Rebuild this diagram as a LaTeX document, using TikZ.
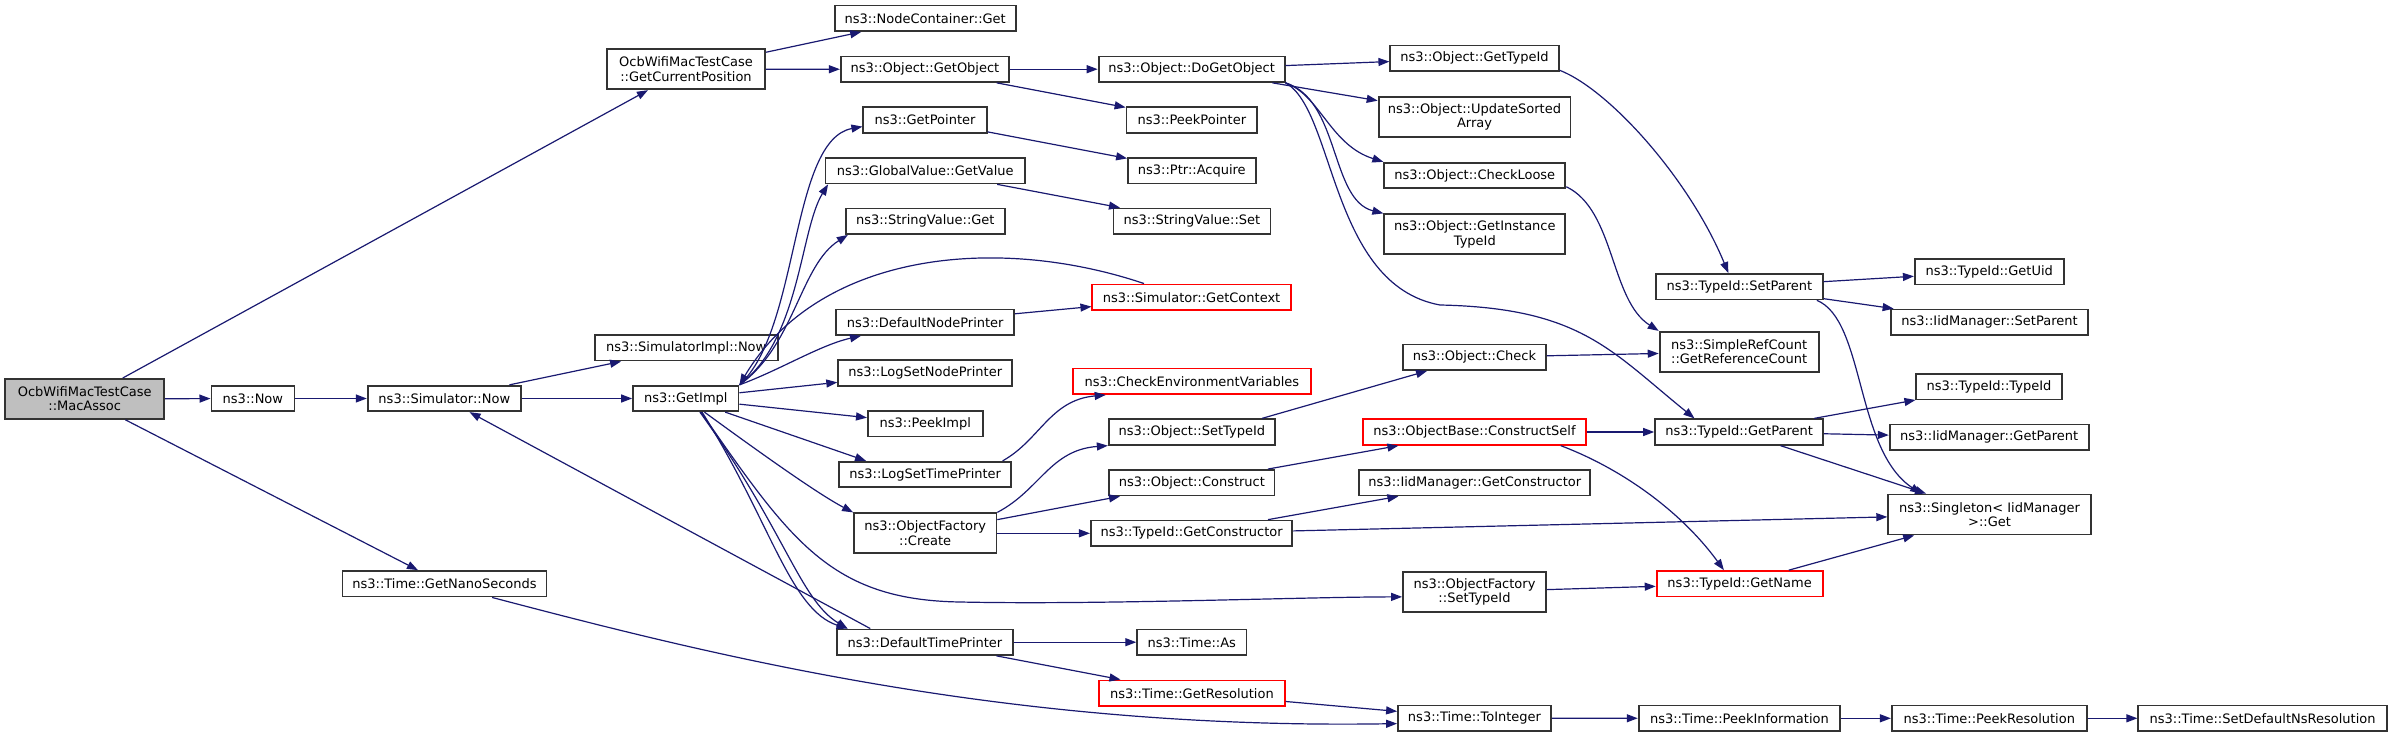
\documentclass[tikz,border=0pt]{standalone}
\usepackage{fontspec}
\setmainfont{DejaVu Sans}
\usetikzlibrary{arrows.meta}
\definecolor{edgeblue}{HTML}{191970}
\definecolor{boxgray}{HTML}{333333}
\newcommand\callfont{\fontsize{6.5pt}{7.25pt}\selectfont}
\tikzset{
  fnbox/.style={draw=boxgray, fill=white, line width=0.9pt, inner sep=0pt,
    align=center, font=\callfont, minimum height=12.75pt},
  twoline/.style={minimum height=20pt},
  rootbox/.style={fnbox, fill=black!25},
  redbox/.style={fnbox, draw=red},
  calledge/.style={draw=edgeblue, line width=0.6pt, -{Triangle[length=5.5pt,width=4pt]}},
}
\begin{document}
\begin{tikzpicture}[x=0.5pt,y=-0.5pt]
  \useasboundingbox (0,0) rectangle (2392,737);
  \node[rootbox, twoline, minimum width=79.5pt] (macassoc) at (84.7,398.9) {OcbWifiMacTestCase\\::MacAssoc};
  \node[fnbox, minimum width=41.5pt] (now) at (252.9,398.5) {ns3::Now};
  \node[fnbox, minimum width=76.6pt] (simnow) at (444.3,398.5) {ns3::Simulator::Now};
  \node[fnbox, minimum width=102pt] (nanosec) at (444.5,583.8) {ns3::Time::GetNanoSeconds};
  \node[fnbox, twoline, minimum width=79.25pt] (getcurpos) at (686,69.3) {OcbWifiMacTestCase\\::GetCurrentPosition};
  \node[fnbox, minimum width=91.5pt] (simimplnow) at (686.2,347.8) {ns3::SimulatorImpl::Now};
  \node[fnbox, minimum width=52.75pt] (getimpl) at (685.8,398.5) {ns3::GetImpl};
  \node[fnbox, minimum width=90.5pt] (nodecontget) at (925.2,18.3) {ns3::NodeContainer::Get};
  \node[fnbox, minimum width=84.2pt] (getobject) at (925,69.2) {ns3::Object::GetObject};
  \node[fnbox, minimum width=61.7pt] (getpointer) at (925,120) {ns3::GetPointer};
  \node[fnbox, minimum width=99.75pt] (globalget) at (925.2,170.7) {ns3::GlobalValue::GetValue};
  \node[fnbox, minimum width=79.3pt] (stringget) at (925.3,221.3) {ns3::StringValue::Get};
  \node[fnbox, minimum width=89pt] (defnodeprinter) at (925.2,322.2) {ns3::DefaultNodePrinter};
  \node[fnbox, minimum width=87pt] (logsetnode) at (925.2,373) {ns3::LogSetNodePrinter};
  \node[fnbox, minimum width=57.4pt] (peekimpl) at (925.3,423.8) {ns3::PeekImpl};
  \node[fnbox, minimum width=86pt] (logsettime) at (925.2,474.5) {ns3::LogSetTimePrinter};
  \node[fnbox, twoline, minimum width=71.2pt] (ofcreate) at (925.2,533.3) {ns3::ObjectFactory\\::Create};
  \node[fnbox, minimum width=87.8pt] (deftimeprinter) at (925,642.2) {ns3::DefaultTimePrinter};
  \node[fnbox, minimum width=93pt] (dogetobject) at (1191.6,69.2) {ns3::Object::DoGetObject};
  \node[fnbox, minimum width=65.3pt] (peekpointer) at (1191.8,120) {ns3::PeekPointer};
  \node[fnbox, minimum width=63.8pt] (acquire) at (1191.8,170.7) {ns3::Ptr::Acquire};
  \node[fnbox, minimum width=78.5pt] (stringset) at (1191.9,221.3) {ns3::StringValue::Set};
  \node[redbox, minimum width=99.25pt] (getcontext) at (1191.6,297.2) {ns3::Simulator::GetContext};
  \node[redbox, minimum width=118.85pt] (checkenv) at (1191.9,381.3) {ns3::CheckEnvironmentVariables};
  \node[fnbox, minimum width=83.15pt] (objsettypeid) at (1191.9,432) {ns3::Object::SetTypeId};
  \node[fnbox, minimum width=82.65pt] (objconstruct) at (1191.9,482.7) {ns3::Object::Construct};
  \node[fnbox, minimum width=100.75pt] (getconstructor) at (1191.6,533.3) {ns3::TypeId::GetConstructor};
  \node[fnbox, minimum width=54.6pt] (timeas) at (1191.8,642.2) {ns3::Time::As};
  \node[redbox, minimum width=92.85pt] (getresolution) at (1191.9,693.2) {ns3::Time::GetResolution};
  \node[fnbox, minimum width=84.2pt] (gettypeid) at (1474.5,58.3) {ns3::Object::GetTypeId};
  \node[fnbox, twoline, minimum width=95.9pt] (updatesorted) at (1474.5,117) {ns3::Object::UpdateSorted\\Array};
  \node[fnbox, minimum width=90.55pt] (checkloose) at (1474.8,175.5) {ns3::Object::CheckLoose};
  \node[fnbox, twoline, minimum width=90.55pt] (getinsttypeid) at (1474.8,234.3) {ns3::Object::GetInstance\\TypeId};
  \node[fnbox, minimum width=71.5pt] (objcheck) at (1474.5,357.3) {ns3::Object::Check};
  \node[redbox, minimum width=111.2pt] (constructself) at (1474.5,432) {ns3::ObjectBase::ConstructSelf};
  \node[fnbox, minimum width=115.5pt] (iidgetconstructor) at (1474.8,482.7) {ns3::IidManager::GetConstructor};
  \node[fnbox, twoline, minimum width=71.5pt] (ofsettypeid) at (1474.5,591.8) {ns3::ObjectFactory\\::SetTypeId};
  \node[fnbox, minimum width=76.5pt] (tointeger) at (1474.5,718.2) {ns3::Time::ToInteger};
  \node[fnbox, minimum width=83.35pt] (setparent) at (1739.4,286.7) {ns3::TypeId::SetParent};
  \node[fnbox, twoline, minimum width=79.5pt] (refcount) at (1739.1,351.8) {ns3::SimpleRefCount\\::GetReferenceCount};
  \node[fnbox, minimum width=84pt] (getparent) at (1739.1,432) {ns3::TypeId::GetParent};
  \node[redbox, minimum width=83pt] (getname) at (1739.6,583.8) {ns3::TypeId::GetName};
  \node[fnbox, minimum width=100.75pt] (peekinfo) at (1739.4,718.3) {ns3::Time::PeekInformation};
  \node[fnbox, minimum width=74.4pt] (getuid) at (1989.2,271.8) {ns3::TypeId::GetUid};
  \node[fnbox, minimum width=98.7pt] (iidsetparent) at (1989.5,322.3) {ns3::IidManager::SetParent};
  \node[fnbox, minimum width=72.65pt] (typeidtypeid) at (1989,386.7) {ns3::TypeId::TypeId};
  \node[fnbox, minimum width=99.5pt] (iidgetparent) at (1989.2,437.2) {ns3::IidManager::GetParent};
  \node[fnbox, twoline, minimum width=101.3pt] (singleton) at (1989.5,514.5) {ns3::Singleton< IidManager\\>::Get};
  \node[fnbox, minimum width=97.5pt] (peekres) at (1989.3,718.3) {ns3::Time::PeekResolution};
  \node[fnbox, minimum width=124.3pt] (setdefault) at (2262.6,718.3) {ns3::Time::SetDefaultNsResolution};

  \draw[calledge] (macassoc) -- (getcurpos);
  \draw[calledge] (macassoc) -- (now);
  \draw[calledge] (macassoc) -- (nanosec);
  \draw[calledge] (now) -- (simnow);
  \draw[calledge] (simnow) -- (simimplnow);
  \draw[calledge] (simnow) -- (getimpl);
  \draw[calledge] (getcurpos) -- (nodecontget);
  \draw[calledge] (getcurpos) -- (getobject);
  \draw[calledge] (getobject) -- (dogetobject);
  \draw[calledge] (getobject) -- (peekpointer);
  \draw[calledge] (getpointer) -- (acquire);
  \draw[calledge] (globalget) -- (stringset);
  \draw[calledge] (getimpl.north east) .. controls (800,330) and (790,140) .. (getpointer.186);
  \draw[calledge] (getimpl.north east) .. controls (800,340) and (800,230) .. (globalget.188);
  \draw[calledge] (getimpl.north east) .. controls (795,345) and (800,265) .. (stringget.190);
  \draw[calledge] (getcontext.164) .. controls (1000,235) and (820,250) .. (getimpl.north east);
  \draw[calledge] (getimpl.north east) .. controls (780,370) and (820,345) .. (defnodeprinter.192);
  \draw[calledge] (getimpl) -- (logsetnode);
  \draw[calledge] (getimpl) -- (peekimpl);
  \draw[calledge] (getimpl) -- (logsettime.167);
  \draw[calledge] (getimpl) .. controls (770,460) and (820,495) .. (ofcreate.north west);
  \draw[calledge] (getimpl.-42) .. controls (790,540) and (830,600) .. (960,602)
    .. controls (1100,605) and (1300,597) .. (ofsettypeid.184);
  \draw[calledge] (getimpl.-40) .. controls (770,520) and (790,610) .. (deftimeprinter.170);
  \draw[calledge] (getimpl.-44) .. controls (785,530) and (800,600) .. (deftimeprinter.170);
  \draw[calledge] (deftimeprinter.166) -- (simnow);
  \draw[calledge] (deftimeprinter) -- (timeas);
  \draw[calledge] (deftimeprinter) -- (getresolution);
  \draw[calledge] (getresolution) -- (tointeger);
  \draw[calledge] (nanosec.-16) .. controls (700,652) and (1000,730) .. (tointeger.184);
  \draw[calledge] (defnodeprinter) -- (getcontext);
  \draw[calledge] (logsettime.10) .. controls (1040,440) and (1050,400) .. (checkenv.189);
  \draw[calledge] (ofcreate.north east) .. controls (1040,490) and (1050,450) .. (objsettypeid.south west);
  \draw[calledge] (ofcreate) -- (objconstruct);
  \draw[calledge] (ofcreate) -- (getconstructor);
  \draw[calledge] (objsettypeid.11) -- (objcheck);
  \draw[calledge] (objconstruct) -- (constructself);
  \draw[calledge] (getconstructor) -- (iidgetconstructor);
  \draw[calledge] (getconstructor) -- (singleton);
  \draw[calledge] (dogetobject) -- (gettypeid);
  \draw[calledge] (dogetobject) -- (updatesorted);
  \draw[calledge] (dogetobject.south east) .. controls (1320,95) and (1330,145) .. (checkloose.north west);
  \draw[calledge] (dogetobject.south east) .. controls (1340,100) and (1330,200) .. (getinsttypeid.north west);
  \draw[calledge] (dogetobject.south east) .. controls (1335,110) and (1330,285) .. (1440,305)
    .. controls (1580,308) and (1610,350) .. (getparent.163);
  \draw[calledge] (gettypeid.-8) .. controls (1610,90) and (1690,180) .. (setparent.129);
  \draw[calledge] (checkloose.-7) .. controls (1615,210) and (1610,300) .. (refcount.north west);
  \draw[calledge] (objcheck) -- (refcount);
  \draw[calledge] (constructself) -- (getparent);
  \draw[calledge] (constructself.-9) .. controls (1620,468) and (1680,510) .. (getname.139);
  \draw[calledge] (ofsettypeid) -- (getname);
  \draw[calledge] (tointeger) -- (peekinfo);
  \draw[calledge] (peekinfo) -- (peekres);
  \draw[calledge] (peekres) -- (setdefault);
  \draw[calledge] (setparent) -- (getuid);
  \draw[calledge] (setparent) -- (iidsetparent);
  \draw[calledge] (setparent.-10) .. controls (1865,320) and (1855,450) .. (singleton.163);
  \draw[calledge] (getparent) -- (typeidtypeid);
  \draw[calledge] (getparent) -- (iidgetparent);
  \draw[calledge] (getparent) -- (singleton);
  \draw[calledge] (getname) -- (singleton);
\end{tikzpicture}
\end{document}
